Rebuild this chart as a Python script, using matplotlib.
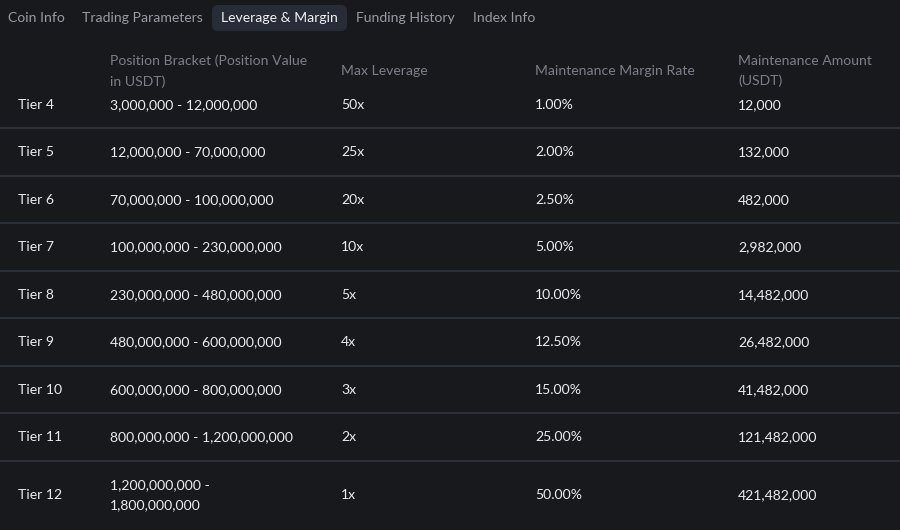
"""
Leverage & Margin tier table, dark theme
"""

import matplotlib
matplotlib.use("Agg")
import matplotlib.pyplot as plt
from matplotlib.patches import FancyBboxPatch

plt.rcParams['font.family'] = ['Lato', 'DejaVu Sans']

tabs = ["Coin Info", "Trading Parameters", "Leverage & Margin", "Funding History", "Index Info"]
active_tab = "Leverage & Margin"

headers = ["", "Position Bracket (Position Value\nin USDT)", "Max Leverage",
           "Maintenance Margin Rate", "Maintenance Amount\n(USDT)"]

tiers = ["Tier 4", "Tier 5", "Tier 6", "Tier 7", "Tier 8", "Tier 9", "Tier 10", "Tier 11", "Tier 12"]
brackets = ["3,000,000 - 12,000,000", "12,000,000 - 70,000,000", "70,000,000 - 100,000,000",
            "100,000,000 - 230,000,000", "230,000,000 - 480,000,000", "480,000,000 - 600,000,000",
            "600,000,000 - 800,000,000", "800,000,000 - 1,200,000,000",
            "1,200,000,000 -\n1,800,000,000"]
leverage = ["50x", "25x", "20x", "10x", "5x", "4x", "3x", "2x", "1x"]
mmr = ["1.00%", "2.00%", "2.50%", "5.00%", "10.00%", "12.50%", "15.00%", "25.00%", "50.00%"]
amounts = ["12,000", "132,000", "482,000", "2,982,000", "14,482,000", "26,482,000",
           "41,482,000", "121,482,000", "421,482,000"]

bg = "#18191d"
sep = "#30353e"
head_col = "#7b7f88"
body_col = "#ebebed"
tab_col = "#9a9ca3"

W, H = 900, 530
fig = plt.figure(figsize=(W / 100, H / 100), dpi=100, facecolor=bg)
ax = fig.add_axes([0, 0, 1, 1])
ax.set_xlim(0, W)
ax.set_ylim(H, 0)
ax.axis("off")
ax.set_facecolor(bg)

# tab bar
tab_x = [8, 82, 221, 356, 473]
for name, x in zip(tabs, tab_x):
	if name == active_tab:
		box = FancyBboxPatch((x - 9, 5), 135, 26, boxstyle="round,pad=0,rounding_size=6",
		                     fc="#272c36", ec="none")
		ax.add_patch(box)
		ax.text(x, 18.5, name, color="#f2f2f4", fontsize=10.1, va="center", ha="left")
	else:
		ax.text(x, 18.5, name, color=tab_col, fontsize=10.1, va="center", ha="left")

col_x = [18, 110, 341, 535, 738]

# header
for x, h in zip(col_x, headers):
	ax.text(x, 71, h, color=head_col, fontsize=10.1, va="center", ha="left", linespacing=1.8)

# rows
row_y = [105, 152, 200, 247, 295, 342, 390, 437, 495]
line_y = [128, 176, 223, 271, 318, 366, 413, 461]
columns = [tiers, brackets, leverage, mmr, amounts]
for i, y in enumerate(row_y):
	for x, col in zip(col_x, columns):
		ax.text(x, y, col[i], color=body_col, fontsize=10.1, va="center", ha="left", linespacing=1.8)

for y in line_y:
	ax.axhline(y, color=sep, lw=1.2)

fig.savefig("out.png", dpi=100, facecolor=bg)
